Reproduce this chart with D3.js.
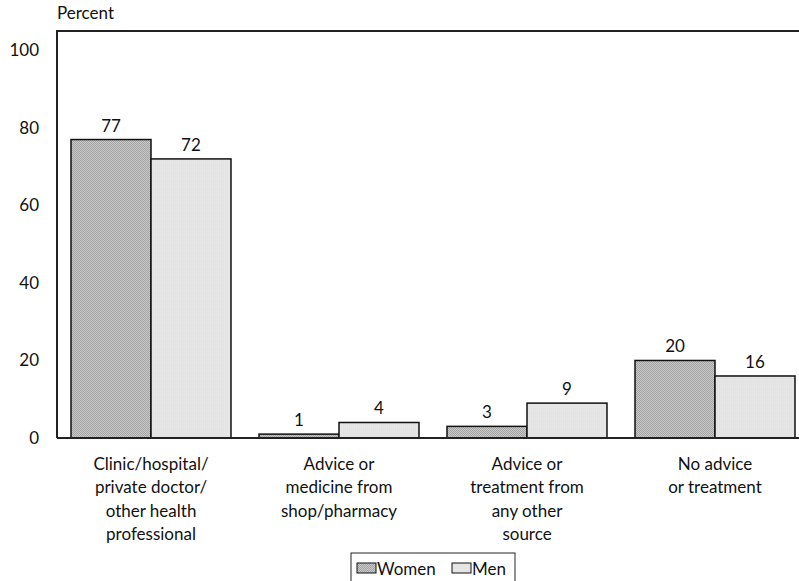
<!DOCTYPE html>
<html>
<head>
<meta charset="utf-8">
<script src="https://cdn.jsdelivr.net/npm/d3@7"></script>
<style>
  body { margin: 0; background: #fff; }
  text { font-family: Lato, "Open Sans", sans-serif; fill: #111; }
</style>
</head>
<body>
<div id="chart"></div>
<script>
// data
const categories = [
  ["Clinic/hospital/", "private doctor/", "other health", "professional"],
  ["Advice or", "medicine from", "shop/pharmacy"],
  ["Advice or", "treatment from", "any other", "source"],
  ["No advice", "or treatment"]
];
const seriesNames = ["Women", "Men"];
const women = [77, 1, 3, 20];
const men = [72, 4, 9, 16];
const yTicks = [0, 20, 40, 60, 80, 100];

const W = 799, H = 581;
const svg = d3.select("#chart").append("svg")
  .attr("width", W).attr("height", H);

// fill patterns like the print hatching
const defs = svg.append("defs");
const pw = defs.append("pattern").attr("id", "patWomen")
  .attr("patternUnits", "userSpaceOnUse").attr("width", 2).attr("height", 2);
pw.append("rect").attr("width", 2).attr("height", 2).attr("fill", "#c8c8c8");
pw.append("path").attr("d", "M0,2 L2,0 M-0.5,0.5 L0.5,-0.5 M1.5,2.5 L2.5,1.5")
  .attr("stroke", "#8c8c8c").attr("stroke-width", 0.6);

const pm = defs.append("pattern").attr("id", "patMen")
  .attr("patternUnits", "userSpaceOnUse").attr("width", 2).attr("height", 2);
pm.append("rect").attr("width", 2).attr("height", 2).attr("fill", "#efefef");
pm.append("rect").attr("x", 0.5).attr("y", 0.5).attr("width", 0.9).attr("height", 0.9).attr("fill", "#bdbdbd");

const fills = { Women: "url(#patWomen)", Men: "url(#patMen)" };

const plotLeft = 57, plotTop = 31, plotBottom = 438;

const x = d3.scaleBand()
  .domain(d3.range(categories.length))
  .range([plotLeft, 809])
  .paddingInner(0.149)
  .paddingOuter(0.0745);

const xs = d3.scaleBand().domain(seriesNames).range([0, x.bandwidth()]);

const y = d3.scaleLinear().domain([0, 105]).range([plotBottom, plotTop]);

// y axis labels (no tick marks)
const yAxis = svg.append("g")
  .attr("transform", `translate(${plotLeft},0)`)
  .call(d3.axisLeft(y).tickValues(yTicks).tickSize(0).tickPadding(18));
yAxis.select(".domain").remove();
yAxis.selectAll("text").style("font-size", "17px").attr("fill", "#111")
  .style("font-family", "Lato, 'Open Sans', sans-serif");

svg.append("text").attr("x", plotLeft).attr("y", 19)
  .style("font-size", "17px").text("Percent");

// bars
const rows = categories.map((c, i) => ({ i, vals: [
  { s: "Women", v: women[i] }, { s: "Men", v: men[i] }] }));

const g = svg.selectAll(".grp").data(rows).enter().append("g")
  .attr("transform", d => `translate(${x(d.i)},0)`);

g.selectAll("rect").data(d => d.vals).enter().append("rect")
  .attr("x", d => xs(d.s))
  .attr("y", d => y(d.v))
  .attr("width", xs.bandwidth())
  .attr("height", d => y(0) - y(d.v))
  .attr("fill", d => fills[d.s])
  .attr("stroke", "#111").attr("stroke-width", 1.5);

g.selectAll(".val").data(d => d.vals).enter().append("text")
  .attr("x", d => xs(d.s) + xs.bandwidth() / 2)
  .attr("y", d => y(d.v) - 8)
  .attr("text-anchor", "middle")
  .style("font-size", "17px")
  .text(d => d.v);

// frame: left, top, bottom
svg.append("path")
  .attr("d", `M${plotLeft},${plotBottom} L${plotLeft},${plotTop} L${W},${plotTop}`)
  .attr("fill", "none").attr("stroke", "#222").attr("stroke-width", 2);
svg.append("line")
  .attr("x1", plotLeft).attr("x2", W).attr("y1", plotBottom).attr("y2", plotBottom)
  .attr("stroke", "#222").attr("stroke-width", 2);

// category labels
const lab = svg.selectAll(".cat").data(categories).enter().append("text")
  .attr("text-anchor", "middle")
  .style("font-size", "17px")
  .attr("transform", (d, i) => `translate(${x(i) + x.bandwidth() / 2},470)`);
lab.selectAll("tspan").data(d => d).enter().append("tspan")
  .attr("x", 0).attr("dy", (d, j) => j === 0 ? 0 : 23.3)
  .text(d => d);

// legend
const lg = svg.append("g");
lg.append("rect").attr("x", 351).attr("y", 553).attr("width", 164).attr("height", 40)
  .attr("fill", "#fff").attr("stroke", "#222").attr("stroke-width", 1);
const lx = [357, 452];
seriesNames.forEach((s, i) => {
  lg.append("rect").attr("x", lx[i]).attr("y", 563).attr("width", 19).attr("height", 10)
    .attr("fill", fills[s]).attr("stroke", "#111").attr("stroke-width", 1);
  lg.append("text").attr("x", lx[i] + 20).attr("y", 575)
    .style("font-size", "17px").text(s);
});
</script>
</body>
</html>
